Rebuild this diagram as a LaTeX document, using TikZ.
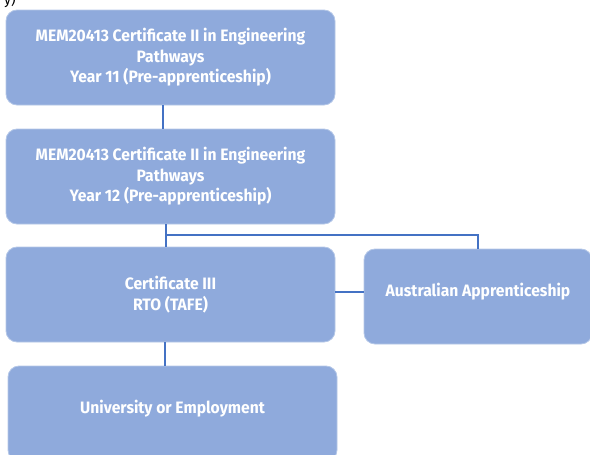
\documentclass[tikz,border=0pt]{standalone}
\usepackage{fontspec}
\setmainfont{Fira Sans}[FakeStretch=0.95]
\definecolor{boxfill}{HTML}{8FAADC}
\definecolor{boxedge}{HTML}{B4C7E7}
\definecolor{connblue}{HTML}{4472C4}
\begin{document}
\begin{tikzpicture}[x=1pt,y=-1pt,
  pbox/.style={draw=boxedge,line width=0.8pt,fill=boxfill,rounded corners=11pt,
    minimum height=95pt,inner sep=0pt,outer sep=0pt},
  ptext/.style={text=white,font=\bfseries\fontsize{16.5}{20.5}\selectfont,align=center,inner sep=0pt},
  conn/.style={draw=connblue,line width=1.3pt}]
\useasboundingbox (0,0) rectangle (590,455);
\begin{scope}
\clip (0,0) rectangle (590,455);
\node[font=\fontsize{15}{18}\selectfont,anchor=south west,inner sep=0pt] (frag) at (4,8) {y)};
\node[pbox,minimum width=329pt] (b1) at (170.5,57.5) {};
\node[pbox,minimum width=329pt] (b2) at (170.5,176.5) {};
\node[pbox,minimum width=329pt] (b3) at (170.5,294.5) {};
\node[pbox,minimum width=228pt] (b4) at (478,296.5) {};
\node[pbox,minimum width=329pt] (b5) at (172.5,413.5) {};
\end{scope}
\node[ptext] (t1) at (b1.center) {MEM20413 Certificate II in Engineering\\Pathways\\Year 11 (Pre-apprenticeship)};
\node[ptext] (t2) at (b2.center) {MEM20413 Certificate II in Engineering\\Pathways\\Year 12 (Pre-apprenticeship)};
\node[ptext] (t3) at (b3.center) {Certificate III\\RTO (TAFE)};
\node[ptext] (t4) at ([yshift=4.5]b4.center) {Australian Apprenticeship};
\node[ptext] (t5) at ([yshift=4.5]b5.center) {University or Employment};
\coordinate (j) at ([xshift=-4.5,yshift=-11]b2.south);
\draw[conn] ([xshift=-7.5]b1.south) -- ([xshift=-7.5]b2.north);
\draw[conn] ([xshift=-4.5]b2.south) -- ([xshift=-4.5]b3.north);
\draw[conn] (j) -| (b4.north);
\draw[conn] ([yshift=2.5]b3.east) -- ([yshift=2.5]b3.east -| b4.west);
\draw[conn] ([xshift=-5.5]b3.south) -- ([xshift=-5.5]b3.south |- b5.north);
\end{tikzpicture}
\end{document}
